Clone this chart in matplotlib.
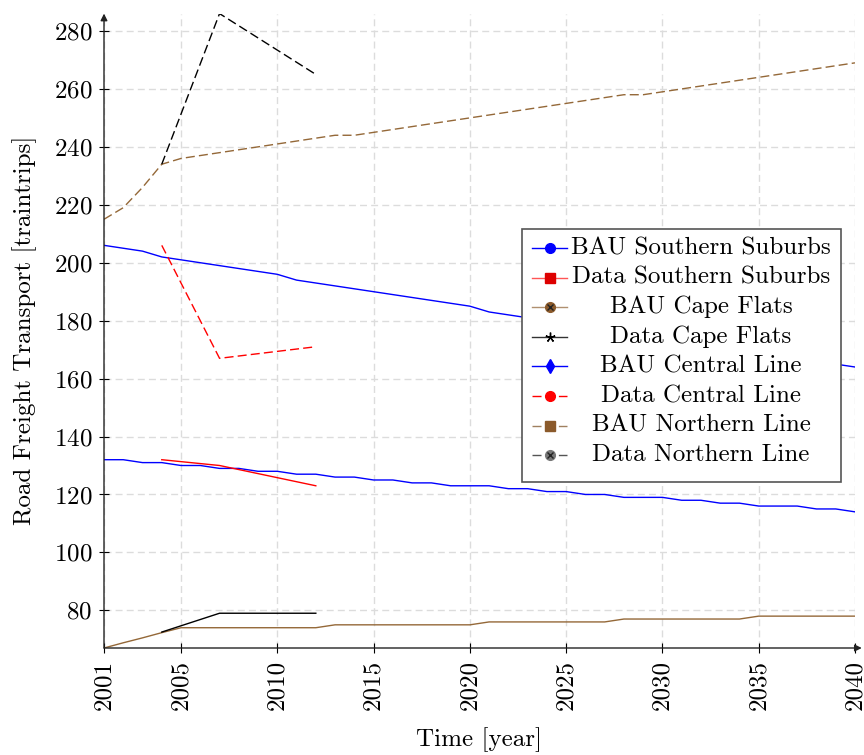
import numpy as np
import matplotlib
matplotlib.use("Agg")
import matplotlib.pyplot as plt
from matplotlib.lines import Line2D
from matplotlib.patches import Rectangle

plt.rcParams["font.family"] = "serif"
plt.rcParams["font.serif"] = ["cmr10"]
plt.rcParams["mathtext.fontset"] = "cm"
plt.rcParams["axes.formatter.use_mathtext"] = True

# ---------- Data ----------
years = np.arange(2001, 2041)
data_years = [2004, 2007, 2012]

bau_southern = [132, 132, 131, 131, 130, 130, 129, 129, 128, 128,
                127, 127, 126, 126, 125, 125, 124, 124, 123, 123,
                123, 122, 122, 121, 121, 120, 120, 119, 119, 119,
                118, 118, 117, 117, 116, 116, 116, 115, 115, 114]
data_southern = [132, 130, 123]

bau_cape = [67, 68.8, 70.5, 72.3, 74, 74, 74, 74, 74, 74,
            74, 74, 75, 75, 75, 75, 75, 75, 75, 75,
            76, 76, 76, 76, 76, 76, 76, 77, 77, 77,
            77, 77, 77, 77, 78, 78, 78, 78, 78, 78]
data_cape = [72.5, 79, 79]

bau_central = [206, 205, 204, 202, 201, 200, 199, 198, 197, 196,
               194, 193, 192, 191, 190, 189, 188, 187, 186, 185,
               183, 182, 181, 180, 179, 178, 177, 176, 175, 174,
               173, 172, 171, 170, 169, 168, 167, 166, 165, 164]
data_central = [206, 167, 171]

bau_northern = [215, 219, 226, 234, 236, 237, 238, 239, 240, 241,
                242, 243, 244, 244, 245, 246, 247, 248, 249, 250,
                251, 252, 253, 254, 255, 256, 257, 258, 258, 259,
                260, 261, 262, 263, 264, 265, 266, 267, 268, 269]
data_northern = [234, 286, 265]

xticks = [2001, 2005, 2010, 2015, 2020, 2025, 2030, 2035, 2040]
yticks = [80, 100, 120, 140, 160, 180, 200, 220, 240, 260, 280]

# ---------- Styling ----------
BLUE = "#0000ff"
RED = "#ff0000"
BROWN = "#946838"
DASH = (0, (6.5, 3.0))
LW = 1.0
FS = 18

fig = plt.figure(figsize=(8.64, 7.55), dpi=100)
ax = fig.add_axes([104 / 864, (755 - 648) / 755, 751 / 864, (648 - 13.6) / 755])

ax.plot(years, bau_central, color=BLUE, lw=LW)
ax.plot(data_years, data_central, color=RED, lw=LW, linestyle=DASH)
ax.plot(years, bau_southern, color=BLUE, lw=LW)
ax.plot(data_years, data_southern, color=RED, lw=LW)
ax.plot(years, bau_cape, color=BROWN, lw=LW)
ax.plot(data_years, data_cape, color="black", lw=LW)
ax.plot(years, bau_northern, color=BROWN, lw=LW, linestyle=DASH)
ax.plot(data_years, data_northern, color="black", lw=LW, linestyle=DASH)

ax.set_xlim(2001, 2040)
ax.set_ylim(67, 286)
ax.set_xticks(xticks)
ax.set_yticks(yticks)
ax.set_xticklabels([str(t) for t in xticks], rotation=90)
ax.tick_params(direction="inout", length=7, width=0.8, labelsize=FS, pad=5)

ax.grid(True, color="#dcdcdc", linestyle=(0, (5, 3)), lw=1.0)
ax.set_axisbelow(True)
for s in ax.spines.values():
    s.set_visible(False)

arrow = dict(arrowstyle="-|>", color="#222222", lw=1.0, mutation_scale=10,
             shrinkA=0, shrinkB=0)
ax.annotate("", xy=(0, 1.0), xytext=(0, 0), xycoords="axes fraction",
            arrowprops=arrow, annotation_clip=False)
ax.annotate("", xy=(1.009, 0), xytext=(0, 0), xycoords="axes fraction",
            arrowprops=arrow, annotation_clip=False)

ax.set_ylabel("Road Freight Transport [traintrips]", fontsize=FS)
ax.set_xlabel("Time [year]", fontsize=FS)
ax.yaxis.set_label_coords((37 - 104) / 751, 0.5)
ax.xaxis.set_label_coords(0.5, (648 - 727) / 634.4)

# ---------- Legend (pgfplots style, centred labels) ----------
def fx(px):
    return px / 864

def fy(py):
    return 1 - py / 755

fig.add_artist(Rectangle((fx(522), fy(482)), fx(841) - fx(522), fy(229) - fy(482),
                         transform=fig.transFigure, facecolor="white",
                         edgecolor="#555555", lw=1.2, zorder=5))

legend_entries = [
    ("BAU Southern Suburbs", BLUE, "-", "o", BLUE),
    ("Data Southern Suburbs", "#ff5555", "-", "s", "#dd0000"),
    ("BAU Cape Flats", "#b09070", "-", "o", "#8b5a2b"),
    ("Data Cape Flats", "#333333", "-", (5, 2, 0), "black"),
    ("BAU Central Line", BLUE, "-", "d", BLUE),
    ("Data Central Line", RED, DASH, "o", RED),
    ("BAU Northern Line", "#a08060", DASH, "s", "#8b5a2b"),
    ("Data Northern Line", "#555555", DASH, "o", "#777777"),
]
for i, (label, lc, ls, mk, mc) in enumerate(legend_entries):
    y = fy(248 + i * 29.6)
    fig.add_artist(Line2D([fx(532), fx(567)], [y, y], color=lc, lw=1.0,
                          linestyle=ls, transform=fig.transFigure, zorder=6))
    fig.add_artist(Line2D([fx(549.5)], [y], marker=mk, markersize=7,
                          color=mc, markeredgecolor=mc if mk != (5, 2, 0) else "black",
                          linestyle="none", transform=fig.transFigure, zorder=7))
    if label in ("BAU Cape Flats", "Data Northern Line"):
        fig.add_artist(Line2D([fx(549.5)], [y], marker="x", markersize=4.5,
                              color="#222222", mew=1.0, linestyle="none",
                              transform=fig.transFigure, zorder=8))
    fig.text(fx(701), y, label, ha="center", va="center", fontsize=FS, zorder=8)

fig.savefig("out.png", dpi=100)
